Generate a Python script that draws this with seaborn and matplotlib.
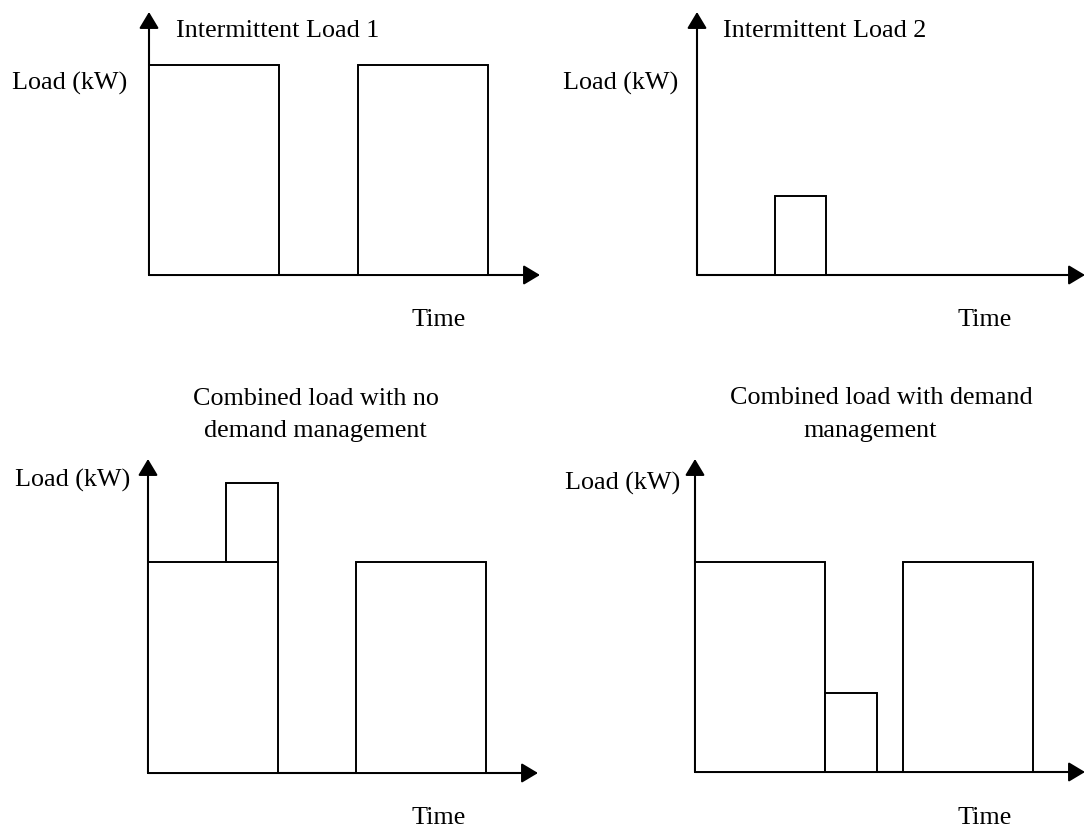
import matplotlib
matplotlib.use("Agg")
import matplotlib.pyplot as plt
import seaborn as sns

sns.set_theme(style="white")
plt.rcParams["font.family"] = ["Liberation Serif", "DejaVu Serif"]
plt.rcParams["text.color"] = "black"

# Load profiles: each block is (start time, duration, load), in arbitrary units
load1_start = [0.0, 4.0]
load1_width = [2.5, 2.5]
load1_kw = [8, 8]

load2_start = [1.5]
load2_width = [1.0]
load2_kw = [3]

# Combined, no demand management: load 2 sits on top of the first block of load 1
stacked_start = [1.5]
stacked_width = [1.0]
stacked_kw = [3]
stacked_base = [8]

# Combined, with demand management: load 2 shifted into the gap
managed_start = [0.0, 2.5, 4.0]
managed_width = [2.5, 1.0, 2.5]
managed_kw = [8, 3, 8]

titles = ["Intermittent Load 1", "Intermittent Load 2",
          "Combined load with no\ndemand management",
          "Combined load with demand\nmanagement"]
ylabel = "Load (kW)"
xlabel = "Time"

W, H = 1086, 828
fig = plt.figure(figsize=(W / 100, H / 100), dpi=100)
FS = 18.8


def add_panel(left, right, base, top, xmax, ymax):
    ax = fig.add_axes([left / W, 1 - base / H, (right - left) / W, (base - top) / H])
    ax.set_xlim(0, xmax)
    ax.set_ylim(0, ymax)
    ax.set_axis_off()
    head = dict(arrowstyle="-|>,head_length=0.5,head_width=0.3", mutation_scale=20,
                color="black", lw=1.5, shrinkA=0, shrinkB=0)
    ax.annotate("", xy=(xmax, 0), xytext=(0, 0), arrowprops=head, annotation_clip=False)
    ax.annotate("", xy=(0, ymax), xytext=(0, 0), arrowprops=head, annotation_clip=False)
    return ax


def blocks(ax, start, width, height, bottom=None):
    ax.bar(start, height, width=width, bottom=bottom, align="edge",
           facecolor="white", edgecolor="black", linewidth=1.4, clip_on=False, zorder=3)


def text(x, y, s, **kw):
    fig.text(x / W, 1 - y / H, s, fontsize=FS, va="baseline", color="black", **kw)


ax1 = add_panel(149, 540, 276, 13, 7.5, 10)
blocks(ax1, load1_start, load1_width, load1_kw)

ax2 = add_panel(697, 1085, 276, 13, 7.5, 10)
blocks(ax2, load2_start, load2_width, load2_kw)

ax3 = add_panel(148, 538, 774, 460, 7.5, 11.9)
blocks(ax3, load1_start, load1_width, load1_kw)
blocks(ax3, stacked_start, stacked_width, stacked_kw, bottom=stacked_base)

ax4 = add_panel(695, 1085, 773, 460, 7.5, 11.9)
blocks(ax4, managed_start, managed_width, managed_kw)

# Panel titles
text(176, 37, titles[0])
text(723, 37, titles[1])
l3 = titles[2].split("\n")
text(316, 405, l3[0], ha="center")
text(315, 437, l3[1], ha="center")
l4 = titles[3].split("\n")
text(881, 404, l4[0], ha="center")
text(870, 437, l4[1], ha="center")

# Axis labels
text(12, 90, ylabel)
text(563, 90, ylabel)
text(15, 487, ylabel)
text(565, 490, ylabel)
text(412, 326, xlabel)
text(957, 326, xlabel)
text(412, 824, xlabel)
text(957, 824, xlabel)

fig.savefig("out.png", dpi=100, facecolor="white")
